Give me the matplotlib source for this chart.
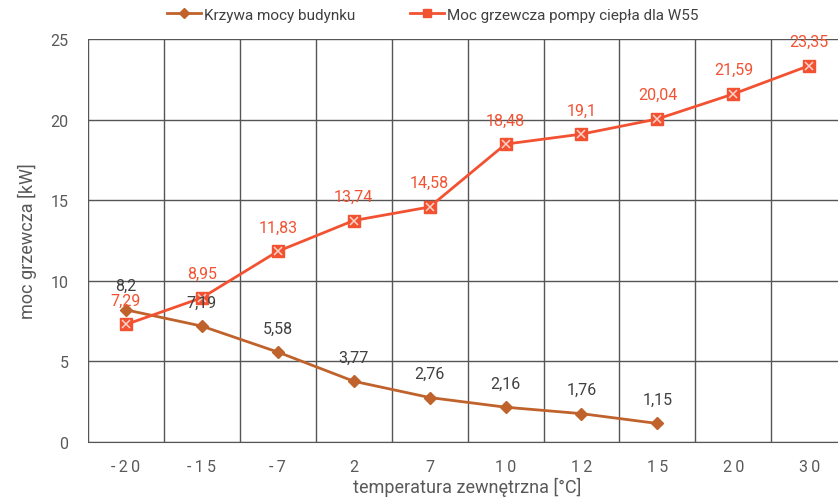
import numpy as np
import matplotlib.pyplot as plt
from matplotlib.ticker import MultipleLocator, FixedLocator

plt.rcParams['font.family'] = ['Roboto', 'DejaVu Sans']

temps = ['-20', '-15', '-7', '2', '7', '10', '12', '15', '20', '30']
building = [8.2, 7.19, 5.58, 3.77, 2.76, 2.16, 1.76, 1.15]
pump = [7.29, 8.95, 11.83, 13.74, 14.58, 18.48, 19.1, 20.04, 21.59, 23.35]

c_build = '#C0622B'
c_pump = '#F25232'
c_grid = '#555555'
c_text = '#595959'

fig = plt.figure(figsize=(8.38, 5.02), dpi=100)
ax = fig.add_axes([0.105, 0.1175, 0.906, 0.8028])

x = np.arange(len(temps))
xb = x[:len(building)]

ax.plot(xb, building, color=c_build, lw=2, marker='D', ms=6.5, zorder=3,
        label='Krzywa mocy budynku')
ax.plot(x, pump, color=c_pump, lw=2, marker='s', ms=8.5, zorder=4,
        label='Moc grzewcza pompy ciepła dla W55')
ax.plot(x, pump, ls='none', marker='x', ms=6, mew=1.1, color='#FBD3C8', zorder=5)

def fmt(v):
    return ('%g' % v).replace('.', ',')

for xi, v in zip(xb, building):
    ax.annotate(fmt(v), (xi, v), xytext=(0, 12), textcoords='offset points',
                ha='center', va='bottom', fontsize=11.5, color='#404040', zorder=6)
for xi, v in zip(x, pump):
    ax.annotate(fmt(v), (xi, v), xytext=(0, 12), textcoords='offset points',
                ha='center', va='bottom', fontsize=11.5, color=c_pump, zorder=6)

ax.set_xlim(-0.5, len(temps) - 0.5)
ax.set_ylim(0, 25)
ax.yaxis.set_major_locator(MultipleLocator(5))
ax.set_xticks(x)
ax.set_xticklabels(['\u2009'.join(t) for t in temps])
ax.xaxis.set_minor_locator(FixedLocator(np.arange(-0.5, len(temps), 1.0)))
ax.grid(True, axis='y', which='major', color=c_grid, lw=1)
ax.grid(True, axis='x', which='minor', color=c_grid, lw=1)
ax.tick_params(axis='both', which='both', length=0, labelsize=11.5, colors=c_text)
ax.tick_params(axis='x', pad=12)
ax.tick_params(axis='y', pad=14)
for s in ['top', 'right', 'left']:
    ax.spines[s].set_visible(False)
ax.spines['bottom'].set_color(c_grid)
ax.set_axisbelow(True)

ax.set_xlabel('temperatura zewnętrzna [°C]', fontsize=13, color=c_text, labelpad=2)
ax.set_ylabel('moc grzewcza [kW]', fontsize=13, color=c_text, labelpad=10)

leg = fig.legend(loc='upper left', bbox_to_anchor=(0.183, 1.01), ncol=2, frameon=False,
                 fontsize=11, columnspacing=3.6, handlelength=2.2, handletextpad=0.2,
                 markerscale=0.75)
for t in leg.get_texts():
    t.set_color('#404040')

fig.savefig('out.png', dpi=100)
